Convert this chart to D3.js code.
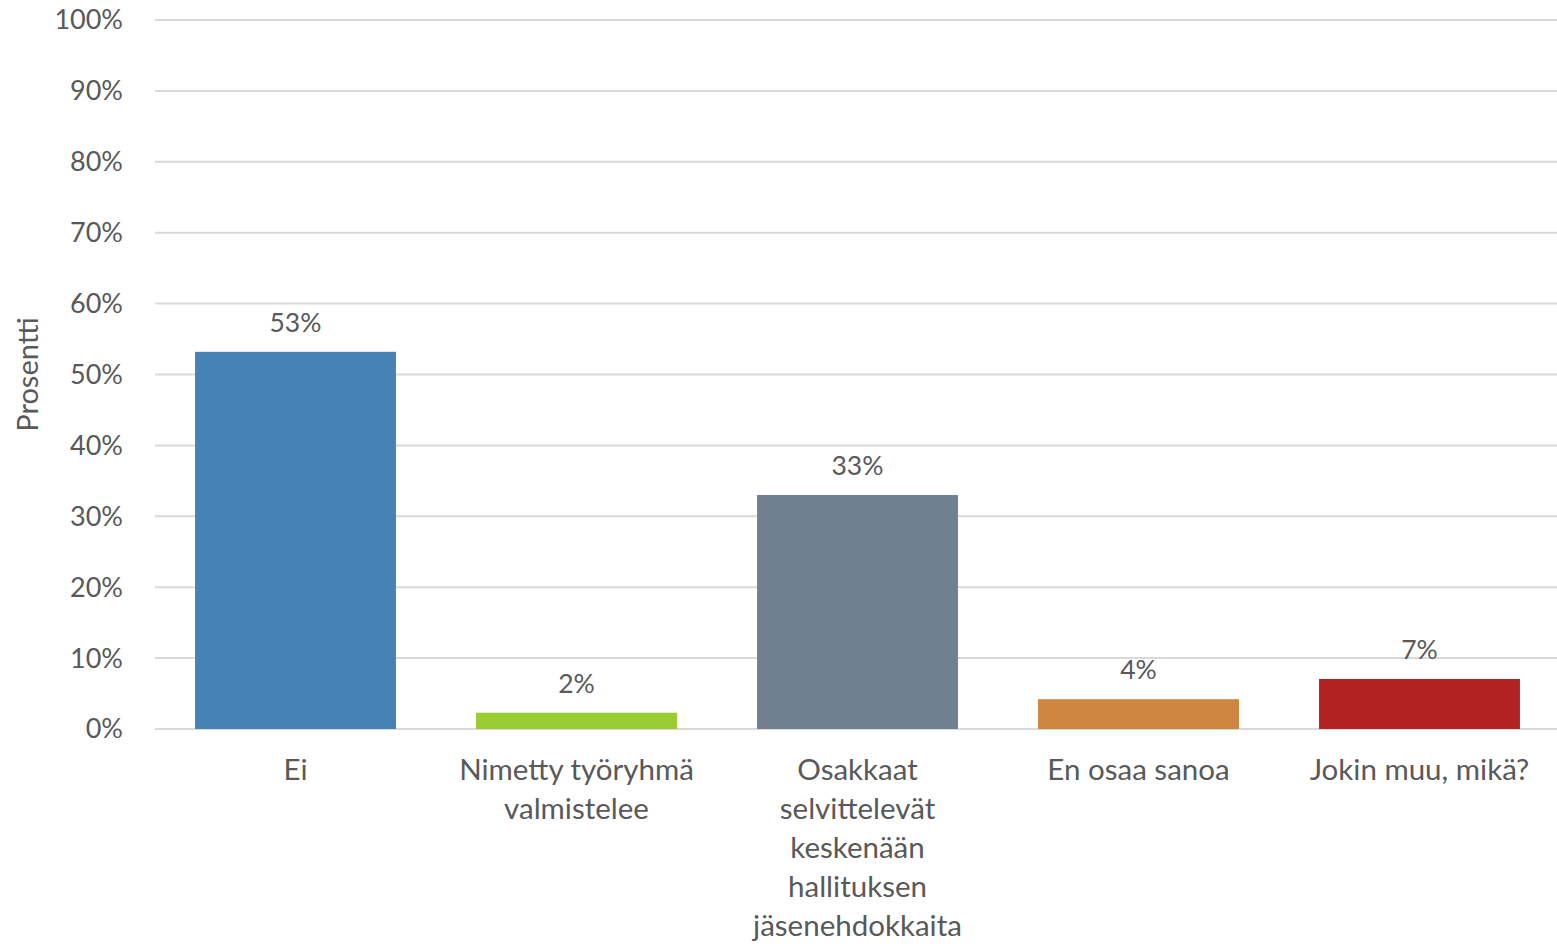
<!DOCTYPE html>
<html><head><meta charset="utf-8">
<script src="https://cdn.jsdelivr.net/npm/d3@7"></script>
<style>
html,body{margin:0;padding:0;background:#fff;}
svg text{font-family:Lato,"Open Sans",sans-serif;fill:#595959;}
</style></head>
<body><svg id="chart" width="1557" height="944"></svg>
<script>
const categories = [["Ei"], ["Nimetty työryhmä","valmistelee"], ["Osakkaat","selvittelevät","keskenään","hallituksen","jäsenehdokkaita"], ["En osaa sanoa"], ["Jokin muu, mikä?"]];
const values = [53.2, 2.3, 33.0, 4.2, 7.05];
const valueLabels = ["53%", "2%", "33%", "4%", "7%"];
const colors = ["#4682B4", "#9ACD32", "#708090", "#CD853F", "#B22222"];
const yTicks = [0,10,20,30,40,50,60,70,80,90,100];

const svg = d3.select("#chart");
const m = {left:155, right:-3, top:20, bottom:215};
const W = 1557, H = 944;
const x = d3.scaleBand().domain(d3.range(values.length)).range([m.left, W - m.right]).paddingInner(0.285).paddingOuter(0.1425);
const y = d3.scaleLinear().domain([0,100]).range([H - m.bottom, m.top]);

// gridlines
svg.append("g").selectAll("line").data(yTicks).join("line")
  .attr("x1", m.left).attr("x2", W)
  .attr("y1", d => y(d)).attr("y2", d => y(d))
  .attr("stroke", "#d9d9d9").attr("stroke-width", 2);

// y tick labels
svg.append("g").selectAll("text").data(yTicks).join("text")
  .attr("x", 123).attr("y", d => y(d)).attr("dy", "0.35em")
  .attr("text-anchor", "end").attr("font-size", 27)
  .text(d => d + "%");

// bars
svg.append("g").selectAll("rect").data(values).join("rect")
  .attr("x", (d,i) => x(i)).attr("width", x.bandwidth())
  .attr("y", d => y(d)).attr("height", d => y(0) - y(d))
  .attr("fill", (d,i) => colors[i]);

// value labels
svg.append("g").selectAll("text").data(values).join("text")
  .attr("x", (d,i) => x(i) + x.bandwidth()/2).attr("y", d => y(d) - 20)
  .attr("text-anchor", "middle").attr("font-size", 26.5)
  .text((d,i) => valueLabels[i]);

// category labels
const cg = svg.append("g").selectAll("text").data(categories).join("text")
  .attr("text-anchor", "middle").attr("font-size", 29.5)
  .attr("x", (d,i) => x(i) + x.bandwidth()/2).attr("y", 780);
cg.selectAll("tspan").data(d => d).join("tspan")
  .attr("x", function(){ return this.parentNode.getAttribute("x"); })
  .attr("y", (d,j) => 780 + j*39)
  .text(d => d);

// y axis title
svg.append("text").attr("transform", `translate(38,${(y(0)+y(100))/2}) rotate(-90)`)
  .attr("text-anchor", "middle").attr("font-size", 29).text("Prosentti");
</script></body></html>
